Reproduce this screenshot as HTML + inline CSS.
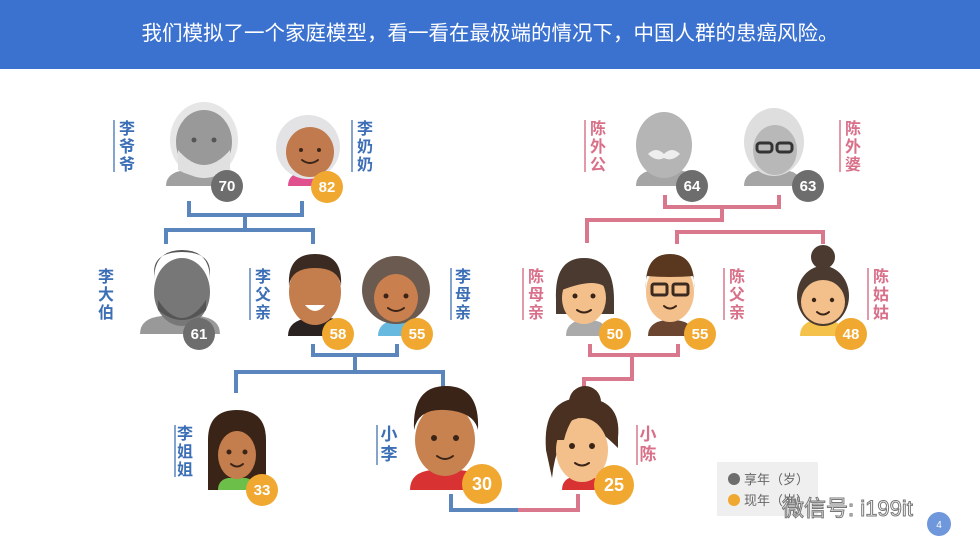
<!DOCTYPE html>
<html><head><meta charset="utf-8"><style>
html,body{margin:0;padding:0;background:#fff;}
svg{display:block;font-family:"Liberation Sans","Noto Sans CJK SC",sans-serif;}
</style></head><body>
<svg width="980" height="551" viewBox="0 0 980 551" xmlns="http://www.w3.org/2000/svg">
<rect width="980" height="551" fill="#fff"/>
<rect width="980" height="69" fill="#3b72d0"/>
<text x="490" y="40" fill="#fff" font-size="20.5" text-anchor="middle">我们模拟了一个家庭模型，看一看在最极端的情况下，中国人群的患癌风险。</text>

<g stroke="#5b86bd" stroke-width="4" fill="none">
<path d="M189 201V215H302V201M245 215V230M166 244V230H313V244"/>
<path d="M313 344V355H397V344M355 355V372M236 393V372H443V393"/>
<path d="M451 494V510H520"/>
</g>
<g stroke="#d9788c" stroke-width="4" fill="none">
<path d="M665 195V207H779V195M722 207V220H587V243"/>
<path d="M677 244V232H823V244"/>
<path d="M590 344V355H678V344M632 355V379H584V397"/>
<path d="M518 510H578V494"/>
</g>

<g stroke-width="1.5">
<line x1="114" y1="120" x2="114" y2="172" stroke="#5b86bd"/>
<line x1="352" y1="120" x2="352" y2="172" stroke="#5b86bd"/>
<line x1="250" y1="268" x2="250" y2="320" stroke="#5b86bd"/>
<line x1="451" y1="268" x2="451" y2="320" stroke="#5b86bd"/>
<line x1="175" y1="425" x2="175" y2="477" stroke="#5b86bd"/>
<line x1="377" y1="425" x2="377" y2="465" stroke="#5b86bd"/>
<line x1="585" y1="120" x2="585" y2="172" stroke="#d9788c"/>
<line x1="840" y1="120" x2="840" y2="172" stroke="#d9788c"/>
<line x1="523" y1="268" x2="523" y2="320" stroke="#d9788c"/>
<line x1="724" y1="268" x2="724" y2="320" stroke="#d9788c"/>
<line x1="868" y1="268" x2="868" y2="320" stroke="#d9788c"/>
<line x1="637" y1="425" x2="637" y2="465" stroke="#d9788c"/>
</g>
<g font-size="16" font-weight="bold" fill="#3d6fb6" text-anchor="middle">
<text><tspan x="127" y="134">李</tspan><tspan x="127" y="152">爷</tspan><tspan x="127" y="170">爷</tspan></text>
<text><tspan x="365" y="134">李</tspan><tspan x="365" y="152">奶</tspan><tspan x="365" y="170">奶</tspan></text>
<text><tspan x="106" y="282">李</tspan><tspan x="106" y="300">大</tspan><tspan x="106" y="318">伯</tspan></text>
<text><tspan x="263" y="282">李</tspan><tspan x="263" y="300">父</tspan><tspan x="263" y="318">亲</tspan></text>
<text><tspan x="463" y="282">李</tspan><tspan x="463" y="300">母</tspan><tspan x="463" y="318">亲</tspan></text>
<text><tspan x="185" y="439">李</tspan><tspan x="185" y="457">姐</tspan><tspan x="185" y="475">姐</tspan></text>
<text font-size="17"><tspan x="389" y="440">小</tspan><tspan x="389" y="460">李</tspan></text>
</g>
<g font-size="16" font-weight="bold" fill="#d9708a" text-anchor="middle">
<text><tspan x="598" y="134">陈</tspan><tspan x="598" y="152">外</tspan><tspan x="598" y="170">公</tspan></text>
<text><tspan x="853" y="134">陈</tspan><tspan x="853" y="152">外</tspan><tspan x="853" y="170">婆</tspan></text>
<text><tspan x="536" y="282">陈</tspan><tspan x="536" y="300">母</tspan><tspan x="536" y="318">亲</tspan></text>
<text><tspan x="737" y="282">陈</tspan><tspan x="737" y="300">父</tspan><tspan x="737" y="318">亲</tspan></text>
<text><tspan x="881" y="282">陈</tspan><tspan x="881" y="300">姑</tspan><tspan x="881" y="318">姑</tspan></text>
<text font-size="17"><tspan x="648" y="440">小</tspan><tspan x="648" y="460">陈</tspan></text>
</g>

<path d="M166 186q0-14 20-16h36q20 2 20 16z" fill="#a0a0a0"/>
<ellipse cx="204" cy="140" rx="34" ry="38" fill="#e6e6e6"/>
<ellipse cx="204" cy="142" rx="28" ry="32" fill="#999"/>
<path d="M178 150q26 30 52 0v20q-26 14-52 0z" fill="#e0e0e0"/>
<path d="M288 186q0-12 14-14h20q14 2 14 14z" fill="#e0508e"/>
<ellipse cx="308" cy="147" rx="32" ry="32" fill="#e3e3e5"/>
<ellipse cx="310" cy="152" rx="24" ry="25" fill="#c07a4d"/>
<path d="M140 334q0-16 22-18h36q22 2 22 18z" fill="#999"/>
<ellipse cx="182" cy="292" rx="28" ry="34" fill="#777"/>
<path d="M154 280q0-30 28-30t28 30v-8q0-20-28-20t-28 20z" fill="#555"/>
<path d="M158 300q24 36 48 0v10q-24 20-48 0z" fill="#555"/>
<path d="M288 336q0-16 22-18h20q20 2 20 18z" fill="#2a2220"/>
<ellipse cx="315" cy="292" rx="26" ry="33" fill="#c47d4c"/>
<path d="M289 286q-2-32 26-32t26 32q-2-18-26-18t-26 18z" fill="#3a2a22"/>
<path d="M305 305q10 12 20 0z" fill="#fff"/>
<path d="M378 336q0-14 18-16h4q18 2 18 16z" fill="#67b9e0"/>
<circle cx="396" cy="290" r="34" fill="#6b5a50"/>
<ellipse cx="396" cy="298" rx="22" ry="24" fill="#c97f4e"/>
<path d="M636 186q0-14 18-16h24q18 2 18 16z" fill="#a5a5a5"/>
<ellipse cx="664" cy="145" rx="28" ry="33" fill="#b5b5b5"/>
<path d="M648 154q8-8 16 0q8-8 16 0q-8 8-16 4q-8 4-16-4z" fill="#eee"/>
<path d="M744 186q0-14 18-16h22q18 2 18 16z" fill="#a5a5a5"/>
<ellipse cx="774" cy="142" rx="30" ry="34" fill="#dedede"/>
<ellipse cx="775" cy="150" rx="22" ry="25" fill="#b8b8b8"/>
<rect x="757" y="143" width="15" height="9" rx="3" fill="none" stroke="#333" stroke-width="3"/>
<rect x="777" y="143" width="15" height="9" rx="3" fill="none" stroke="#333" stroke-width="3"/>
<path d="M566 336q0-14 16-16h10q16 2 16 16z" fill="#aaa"/>
<path d="M556 300q-2-42 28-42t30 42v14h-58z" fill="#4a3a30"/>
<ellipse cx="584" cy="298" rx="22" ry="26" fill="#f3c08b"/>
<path d="M562 290q0-22 24-22t22 22q-10-14-46 0z" fill="#4a3a30"/>
<path d="M648 336q0-14 18-16h10q18 2 18 16z" fill="#6b4530"/>
<ellipse cx="670" cy="292" rx="24" ry="30" fill="#f3c08b"/>
<path d="M646 290q-2-36 24-36t24 36v-14q-24 2-48 0z" fill="#5a3820"/>
<rect x="652" y="284" width="15" height="11" rx="2" fill="none" stroke="#3a2a20" stroke-width="3"/>
<rect x="673" y="284" width="15" height="11" rx="2" fill="none" stroke="#3a2a20" stroke-width="3"/>
<path d="M800 336q0-14 16-16h12q16 2 16 16z" fill="#f4c24a"/>
<circle cx="823" cy="257" r="12" fill="#4a3a30"/>
<ellipse cx="823" cy="296" rx="26" ry="30" fill="#4a3a30"/>
<ellipse cx="823" cy="302" rx="22" ry="22" fill="#f3c08b"/>
<path d="M208 490v-50q0-30 29-30t29 30v50z" fill="#3a2418"/>
<path d="M218 490q0-10 10-12h18q10 2 10 12z" fill="#6cc04a"/>
<ellipse cx="237" cy="455" rx="19" ry="24" fill="#c47d4c"/>
<path d="M410 490q0-18 22-20h28q22 2 22 20z" fill="#d83232"/>
<ellipse cx="445" cy="440" rx="30" ry="36" fill="#c8824f"/>
<path d="M414 430q-2-44 32-44t32 44q-4-18-32-20t-32 20z" fill="#3a2418"/>
<circle cx="585" cy="402" r="16" fill="#4a3020"/>
<path d="M546 450q-4-52 36-52t36 40v10q-20-20-40-30q-22 20-26 60z" fill="#4a3020"/>
<path d="M562 490q0-12 14-14h12q14 2 14 14z" fill="#d83232"/>
<ellipse cx="582" cy="450" rx="26" ry="32" fill="#f3c08b"/>
<path d="M556 440q4-36 34-36q-20 10-26 36z" fill="#4a3020"/>

<g fill="#3a2418">
<circle cx="194" cy="140" r="2.5" fill="#555"/><circle cx="214" cy="140" r="2.5" fill="#555"/>
<circle cx="301" cy="150" r="2"/><circle cx="319" cy="150" r="2"/>
<circle cx="386" cy="296" r="2.5"/><circle cx="406" cy="296" r="2.5"/>
<circle cx="575" cy="296" r="2.5"/><circle cx="593" cy="296" r="2.5"/>
<circle cx="814" cy="300" r="2.2"/><circle cx="832" cy="300" r="2.2"/>
<circle cx="229" cy="452" r="2.5"/><circle cx="245" cy="452" r="2.5"/>
<circle cx="434" cy="438" r="3"/><circle cx="456" cy="438" r="3"/>
<circle cx="572" cy="446" r="3"/><circle cx="592" cy="446" r="3"/>
</g>
<g fill="none" stroke="#3a2418" stroke-width="2" stroke-linecap="round">
<path d="M302 160q8 6 16 0"/><path d="M388 308q8 6 16 0"/><path d="M577 310q7 5 14 0"/>
<path d="M664 306q6 5 12 0"/><path d="M817 312q6 5 12 0"/><path d="M231 464q6 5 12 0"/>
<path d="M437 456q8 6 16 0"/><path d="M575 463q7 5 14 0"/>
</g>

<g font-size="15" font-weight="bold" fill="#fff" text-anchor="middle">
<circle cx="227" cy="186" r="16" fill="#6d6d6d"/><text x="227" y="191">70</text>
<circle cx="327" cy="187" r="16" fill="#f0a830"/><text x="327" y="192">82</text>
<circle cx="199" cy="334" r="16" fill="#6d6d6d"/><text x="199" y="339">61</text>
<circle cx="338" cy="334" r="16" fill="#f0a830"/><text x="338" y="339">58</text>
<circle cx="417" cy="334" r="16" fill="#f0a830"/><text x="417" y="339">55</text>
<circle cx="692" cy="186" r="16" fill="#6d6d6d"/><text x="692" y="191">64</text>
<circle cx="808" cy="186" r="16" fill="#6d6d6d"/><text x="808" y="191">63</text>
<circle cx="615" cy="334" r="16" fill="#f0a830"/><text x="615" y="339">50</text>
<circle cx="700" cy="334" r="16" fill="#f0a830"/><text x="700" y="339">55</text>
<circle cx="851" cy="334" r="16" fill="#f0a830"/><text x="851" y="339">48</text>
<circle cx="262" cy="490" r="16" fill="#f0a830"/><text x="262" y="495">33</text>
</g>
<g font-size="18" font-weight="bold" fill="#fff" text-anchor="middle">
<circle cx="482" cy="484" r="20" fill="#f0a830"/><text x="482" y="490">30</text>
<circle cx="614" cy="485" r="20" fill="#f0a830"/><text x="614" y="491">25</text>
</g>

<rect x="717" y="462" width="101" height="54" fill="#efefef"/>
<circle cx="734" cy="479" r="6" fill="#6d6d6d"/>
<text x="744" y="484" font-size="13" fill="#666">享年（岁）</text>
<circle cx="734" cy="500" r="6" fill="#f0a830"/>
<text x="744" y="505" font-size="13" fill="#666">现年（岁）</text>
<text x="782" y="516" font-size="22" fill="#fff" stroke="#777" stroke-width="1">微信号: i199it</text>
<circle cx="939" cy="524" r="12" fill="#6f97dc"/>
<text x="939" y="528" font-size="10" fill="#fff" text-anchor="middle">4</text>
</svg>
</body></html>
